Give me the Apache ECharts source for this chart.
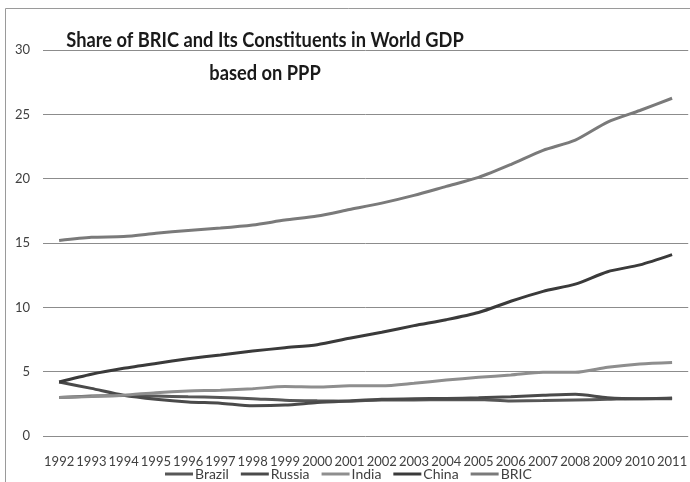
<!DOCTYPE html>
<html>
<head>
<meta charset="utf-8">
<script src="https://cdn.jsdelivr.net/npm/echarts@6/dist/echarts.min.js"></script>
<style>
  html, body { margin: 0; padding: 0; background: #fff; }
  #chart { width: 690px; height: 482px; }
</style>
</head>
<body>
<div id="chart"></div>
<script>
// Share of world GDP (PPP basis), percent
const years = ['1992','1993','1994','1995','1996','1997','1998','1999','2000','2001',
               '2002','2003','2004','2005','2006','2007','2008','2009','2010','2011'];
const brazil = [3.0, 3.1, 3.15, 3.1, 3.05, 3.0, 2.9, 2.78, 2.73, 2.7,
                2.8, 2.8, 2.82, 2.83, 2.72, 2.75, 2.8, 2.85, 2.9, 2.9];
const russia = [4.2, 3.7, 3.17, 2.86, 2.65, 2.55, 2.35, 2.4, 2.6, 2.73,
                2.85, 2.9, 2.92, 2.97, 3.06, 3.16, 3.24, 2.97, 2.9, 2.95];
const india  = [3.0, 3.07, 3.17, 3.37, 3.5, 3.56, 3.68, 3.84, 3.8, 3.9,
                3.9, 4.1, 4.35, 4.56, 4.74, 4.95, 4.95, 5.34, 5.6, 5.72];
const china  = [4.2, 4.8, 5.26, 5.64, 6.0, 6.3, 6.6, 6.86, 7.1, 7.6,
                8.06, 8.58, 9.04, 9.6, 10.47, 11.24, 11.8, 12.77, 13.3, 14.1];
const bric   = [15.2, 15.44, 15.5, 15.75, 15.98, 16.16, 16.4, 16.78, 17.1, 17.6,
                18.1, 18.7, 19.4, 20.1, 21.1, 22.2, 23.0, 24.4, 25.3, 26.25];
const yTicks = { min: 0, max: 30, step: 5 };
const titleLines = ['Share of BRIC and Its Constituents in World GDP', 'based on PPP'];

const chart = echarts.init(document.getElementById('chart'), null, { renderer: 'canvas' });

function line(name, data, color, width) {
  return {
    name: name, type: 'line', data: data, symbol: 'none', smooth: 0.25,
    lineStyle: { color: color, width: width }, itemStyle: { color: color }
  };
}

// Title drawn as two centred lines in a condensed bold face
function titleText(text, y) {
  return {
    type: 'text', silent: true, z: 10,
    x: 265, y: y, scaleX: 0.87,
    style: {
      text: text, fill: '#1a1a1a',
      font: 'bold 21px Lato, sans-serif',
      textAlign: 'center', textVerticalAlign: 'middle'
    }
  };
}

chart.setOption({
  backgroundColor: '#ffffff',
  animation: false,
  textStyle: { fontFamily: 'Lato, "Liberation Sans", sans-serif' },
  graphic: [
    {
      type: 'rect', silent: true, z: -1,
      shape: { x: 5.5, y: 8.5, width: 700, height: 490 },
      style: { fill: 'none', stroke: '#9a9a9a', lineWidth: 1 }
    },
    titleText(titleLines[0], 40),
    titleText(titleLines[1], 73)
  ],
  grid: { left: 43, top: 50, width: 652, height: 386 },
  legend: {
    left: 165, top: 467, padding: 0,
    icon: 'rect', itemWidth: 28, itemHeight: 3, itemGap: 12,
    textStyle: { fontFamily: 'Lato', fontSize: 14, color: '#404040', padding: [0, 0, 0, -3] },
    data: ['Brazil', 'Russia', 'India', 'China', 'BRIC']
  },
  xAxis: {
    type: 'category', data: years, boundaryGap: true,
    axisLine: { show: false }, axisTick: { show: false },
    axisLabel: { interval: 0, color: '#404040', fontSize: 13, margin: 19, fontFamily: 'Lato' }
  },
  yAxis: {
    type: 'value', min: yTicks.min, max: yTicks.max, interval: yTicks.step,
    axisLine: { show: false }, axisTick: { show: false },
    axisLabel: { color: '#404040', fontSize: 13, margin: 13, fontFamily: 'Lato' },
    splitLine: { lineStyle: { color: '#8c8c8c', width: 1 } }
  },
  series: [
    line('Brazil', brazil, '#575757', 3),
    line('Russia', russia, '#4a4a4a', 3),
    line('India', india, '#8e8e8e', 3),
    line('China', china, '#3a3a3a', 3),
    line('BRIC', bric, '#7a7a7a', 3)
  ]
});
</script>
</body>
</html>
